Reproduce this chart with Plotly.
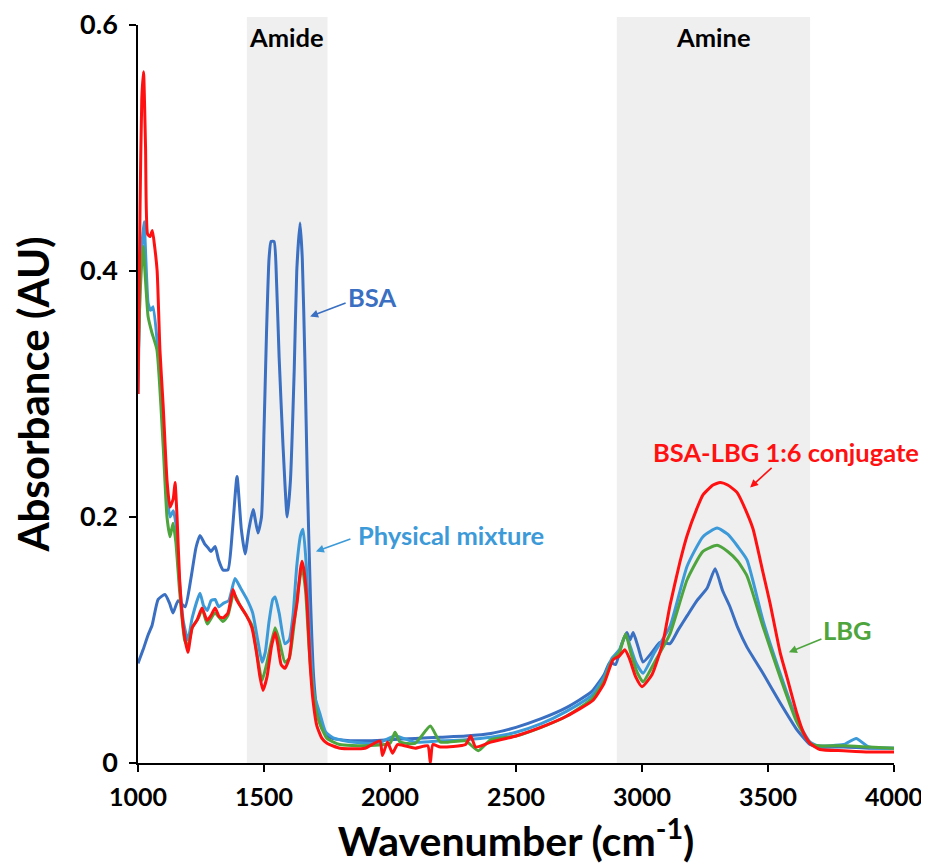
import plotly.graph_objects as go

# ---------------- data ----------------
bsa_x = [1000, 1020, 1040, 1056, 1080, 1107, 1125, 1139, 1159, 1187, 1210, 1230, 1246, 1265, 1278,
         1290, 1306, 1320, 1337, 1357, 1375, 1393, 1410, 1425, 1440, 1457, 1476, 1490, 1500, 1510,
         1520, 1528, 1540, 1550, 1560, 1575, 1592, 1605, 1620, 1630, 1643, 1652, 1662, 1672, 1685,
         1697, 1710, 1730, 1760, 1800, 1900, 2000, 2100, 2200, 2300, 2400, 2500, 2600, 2700, 2800,
         2850, 2873, 2895, 2920, 2940, 2952, 2965, 2985, 3004, 3040, 3071, 3111, 3143, 3180, 3218,
         3258, 3290, 3320, 3349, 3380, 3417, 3450, 3480, 3548, 3615, 3667, 3700, 3800, 3900, 4000]
bsa_y = [0.081, 0.092, 0.104, 0.112, 0.133, 0.137, 0.130, 0.122, 0.132, 0.127, 0.150, 0.175, 0.185, 0.178, 0.175,
         0.172, 0.176, 0.165, 0.157, 0.157, 0.190, 0.233, 0.190, 0.170, 0.190, 0.206, 0.187, 0.200, 0.270, 0.350,
         0.410, 0.424, 0.424, 0.390, 0.330, 0.260, 0.200, 0.230, 0.320, 0.400, 0.439, 0.410, 0.330, 0.230, 0.130,
         0.070, 0.043, 0.028, 0.021, 0.019, 0.018, 0.019, 0.020, 0.021, 0.022, 0.024, 0.029, 0.036, 0.045, 0.058,
         0.072, 0.082, 0.080, 0.097, 0.106, 0.100, 0.106, 0.094, 0.082, 0.090, 0.098, 0.097, 0.108, 0.120, 0.132,
         0.142, 0.158, 0.140, 0.127, 0.110, 0.094, 0.083, 0.073, 0.049, 0.027, 0.015, 0.013, 0.013, 0.012, 0.012]

mix_x = [1000, 1010, 1024, 1040, 1050, 1060, 1079, 1100, 1115, 1127, 1140, 1150, 1160, 1180, 1198,
         1215, 1246, 1260, 1275, 1290, 1306, 1320, 1340, 1360, 1385, 1405, 1430, 1455, 1475, 1492,
         1505, 1520, 1535, 1544, 1560, 1583, 1600, 1615, 1630, 1645, 1655, 1668, 1682, 1700, 1722,
         1745, 1780, 1850, 1950, 2020, 2100, 2200, 2300, 2400, 2500, 2600, 2700, 2800, 2850, 2880,
         2910, 2935, 2950, 2975, 3004, 3050, 3111, 3179, 3242, 3298, 3340, 3380, 3417, 3480, 3548,
         3615, 3667, 3700, 3800, 3850, 3900, 4000]
mix_y = [0.300, 0.400, 0.440, 0.374, 0.368, 0.371, 0.336, 0.275, 0.220, 0.200, 0.205, 0.195, 0.160, 0.115, 0.100,
         0.118, 0.138, 0.128, 0.124, 0.132, 0.133, 0.127, 0.130, 0.132, 0.150, 0.143, 0.134, 0.122, 0.100, 0.082,
         0.090, 0.115, 0.133, 0.135, 0.122, 0.097, 0.100, 0.120, 0.160, 0.185, 0.190, 0.160, 0.100, 0.055, 0.040,
         0.025, 0.020, 0.017, 0.016, 0.022, 0.017, 0.018, 0.019, 0.021, 0.025, 0.032, 0.042, 0.055, 0.070, 0.085,
         0.092, 0.104, 0.097, 0.082, 0.073, 0.090, 0.111, 0.160, 0.184, 0.191, 0.186, 0.176, 0.165, 0.116, 0.073,
         0.035, 0.017, 0.014, 0.015, 0.020, 0.013, 0.012]

lbg_x = [1000, 1008, 1020, 1040, 1055, 1075, 1100, 1115, 1127, 1139, 1150, 1165, 1185, 1198, 1215,
         1240, 1255, 1275, 1305, 1337, 1357, 1380, 1405, 1452, 1475, 1492, 1510, 1544, 1560, 1583,
         1600, 1615, 1635, 1651, 1665, 1680, 1700, 1720, 1750, 1800, 1900, 2000, 2020, 2040, 2100,
         2160, 2200, 2300, 2350, 2400, 2500, 2600, 2700, 2800, 2850, 2880, 2910, 2935, 2955, 2980,
         3004, 3050, 3111, 3179, 3242, 3298, 3340, 3380, 3417, 3480, 3548, 3615, 3667, 3700, 3800,
         3900, 4000]
lbg_y = [0.320, 0.380, 0.420, 0.363, 0.350, 0.336, 0.257, 0.200, 0.184, 0.195, 0.180, 0.140, 0.100, 0.095, 0.110,
         0.118, 0.125, 0.113, 0.122, 0.115, 0.120, 0.138, 0.128, 0.112, 0.085, 0.067, 0.080, 0.110, 0.100, 0.082,
         0.085, 0.105, 0.140, 0.160, 0.140, 0.090, 0.050, 0.033, 0.020, 0.015, 0.014, 0.016, 0.025, 0.017, 0.016,
         0.030, 0.017, 0.018, 0.010, 0.019, 0.022, 0.029, 0.038, 0.052, 0.067, 0.083, 0.090, 0.105, 0.090, 0.074,
         0.066, 0.082, 0.105, 0.149, 0.172, 0.177, 0.172, 0.164, 0.152, 0.111, 0.070, 0.033, 0.016, 0.014, 0.014,
         0.013, 0.012]

conj_x = [1000, 1008, 1015, 1022, 1030, 1038, 1048, 1057, 1066, 1076, 1087, 1100, 1115, 1127, 1140,
          1147, 1155, 1165, 1180, 1198, 1215, 1234, 1254, 1274, 1290, 1306, 1322, 1337, 1357, 1377,
          1390, 1405, 1430, 1452, 1470, 1484, 1496, 1512, 1530, 1544, 1555, 1568, 1583, 1600, 1615,
          1631, 1645, 1651, 1660, 1671, 1683, 1695, 1710, 1730, 1750, 1802, 1900, 1960, 1970, 1990,
          2010, 2030, 2100, 2150, 2160, 2170, 2200, 2300, 2320, 2340, 2400, 2500, 2623, 2700, 2806,
          2850, 2873, 2885, 2910, 2932, 2950, 2975, 3000, 3040, 3083, 3111, 3150, 3179, 3218, 3242,
          3282, 3310, 3340, 3377, 3417, 3441, 3480, 3508, 3548, 3575, 3615, 3640, 3667, 3706, 3800,
          3900, 4000]
conj_y = [0.300, 0.450, 0.540, 0.562, 0.500, 0.430, 0.428, 0.433, 0.420, 0.400, 0.336, 0.290, 0.230, 0.208, 0.215,
          0.228, 0.200, 0.150, 0.110, 0.090, 0.110, 0.116, 0.126, 0.116, 0.120, 0.126, 0.119, 0.118, 0.122, 0.141,
          0.133, 0.128, 0.120, 0.110, 0.090, 0.070, 0.059, 0.070, 0.095, 0.106, 0.096, 0.080, 0.077, 0.085, 0.110,
          0.130, 0.158, 0.164, 0.155, 0.130, 0.080, 0.050, 0.030, 0.020, 0.016, 0.012, 0.012, 0.018, 0.006, 0.017,
          0.008, 0.015, 0.012, 0.014, 0.000, 0.015, 0.013, 0.015, 0.022, 0.013, 0.017, 0.022, 0.031, 0.038, 0.051,
          0.065, 0.078, 0.084, 0.087, 0.092, 0.085, 0.070, 0.062, 0.072, 0.098, 0.128, 0.163, 0.185, 0.207, 0.218,
          0.226, 0.228, 0.226, 0.220, 0.203, 0.190, 0.155, 0.130, 0.090, 0.070, 0.040, 0.025, 0.016, 0.011, 0.010,
          0.009, 0.009]

x_ticks = [1000, 1500, 2000, 2500, 3000, 3500, 4000]
y_ticks = [0, 0.2, 0.4, 0.6]
y_tick_text = ["0", "0.2", "0.4", "0.6"]

amide_band = [1432, 1752]
amine_band = [2900, 3667]

# ---------------- figure ----------------
C_BSA = "#3a6fc2"
C_MIX = "#3d9ad8"
C_LBG = "#4ea53e"
C_CONJ = "#ff1111"

fig = go.Figure()
for xs, ys, col, name in [(bsa_x, bsa_y, C_BSA, "BSA"),
                          (mix_x, mix_y, C_MIX, "Physical mixture"),
                          (lbg_x, lbg_y, C_LBG, "LBG"),
                          (conj_x, conj_y, C_CONJ, "BSA-LBG 1:6 conjugate")]:
    fig.add_trace(go.Scatter(x=xs, y=ys, mode="lines", name=name,
                             line=dict(color=col, width=3, shape="spline", smoothing=0.5)))

for band in (amide_band, amine_band):
    fig.add_shape(type="rect", xref="x", yref="paper", x0=band[0], x1=band[1],
                  y0=0, y1=1.011, fillcolor="#efefef", line_width=0, layer="below")

FONT = "Lato"
ann_font = dict(family=FONT, size=25.5, weight="bold")

def label(x, y, text, color):
    fig.add_annotation(x=x, y=y, xref="x", yref="y", text=text, showarrow=False,
                       font=dict(ann_font, color=color))

def arrow(x, y, ax, ay, color):
    fig.add_annotation(x=x, y=y, xref="x", yref="y", text="", showarrow=True,
                       ax=ax, ay=ay, arrowhead=2, arrowsize=1, arrowwidth=1.6,
                       arrowcolor=color)

label(1591, 0.590, "Amide", "black")
label(3282, 0.590, "Amine", "black")
label(1929, 0.379, "BSA", C_BSA)
arrow(1683, 0.363, 37, -14, C_BSA)
label(2242, 0.185, "Physical mixture", C_MIX)
arrow(1706, 0.172, 36, -13, C_MIX)
label(3571, 0.253, "BSA-LBG 1:6 conjugate", C_CONJ)
arrow(3429, 0.224, 23, -21, C_CONJ)
label(3817, 0.108, "LBG", C_LBG)
arrow(3583, 0.090, 34, -14, C_LBG)

# the page puts the figure 8 px in from the top-left corner
fig.update_layout(
    width=921, height=858,
    margin=dict(l=130, r=35, t=17, b=103),
    plot_bgcolor="white", paper_bgcolor="white",
    showlegend=False,
    font=dict(family=FONT, color="black"),
)
fig.update_xaxes(range=[1000, 4000], tickvals=x_ticks, showgrid=False, zeroline=False,
                 automargin=False, ticklabeloverflow="allow",
                 showline=True, linecolor="black", linewidth=1.5, ticks="outside",
                 ticklen=7, tickwidth=1.5, tickcolor="black", ticklabelstandoff=4,
                 tickfont=dict(family=FONT, size=25, weight="bold"),
                 title=dict(text="Wavenumber (cm<sup>-1</sup>)",
                            font=dict(family=FONT, size=41, weight="bold"), standoff=10))
fig.update_yaxes(range=[0, 0.6], tickvals=y_ticks, ticktext=y_tick_text, showgrid=False,
                 automargin=False, ticklabeloverflow="allow",
                 zeroline=False, showline=True, linecolor="black", linewidth=1.5,
                 ticks="outside", ticklen=7, tickwidth=1.5, tickcolor="black",
                 ticklabelstandoff=6,
                 tickfont=dict(family=FONT, size=27, weight="bold"),
                 title=dict(text="Absorbance (AU)",
                            font=dict(family=FONT, size=42, weight="bold"), standoff=28))

fig.write_html("out.html")
